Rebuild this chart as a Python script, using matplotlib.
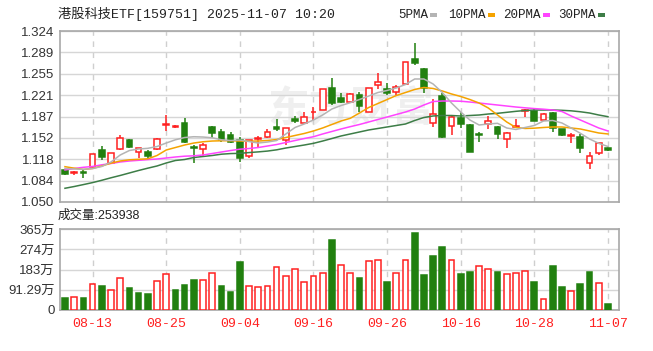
import numpy as np
import matplotlib
matplotlib.use('Agg')
import matplotlib.pyplot as plt

# 港股科技ETF daily K-line, 2025-08-08 .. 2025-11-07

dates = ['08-08', '08-11', '08-12', '08-13', '08-14', '08-15', '08-18', '08-19', '08-20', '08-21',
         '08-22', '08-25', '08-26', '08-27', '08-28', '08-29', '09-01', '09-02', '09-03', '09-04',
         '09-05', '09-08', '09-09', '09-10', '09-11', '09-12', '09-15', '09-16', '09-17', '09-18',
         '09-19', '09-22', '09-23', '09-24', '09-25', '09-26', '09-29', '09-30', '10-09', '10-10',
         '10-13', '10-14', '10-15', '10-16', '10-17', '10-20', '10-21', '10-22', '10-23', '10-24',
         '10-27', '10-28', '10-29', '10-30', '10-31', '11-03', '11-04', '11-05', '11-06', '11-07']

opens = [1.101, 1.0965, 1.098, 1.1056, 1.1333, 1.112, 1.1344, 1.1493, 1.1296, 1.1306,
         1.1344, 1.173, 1.1705, 1.1761, 1.1386, 1.1349, 1.1697, 1.1627, 1.1573, 1.1493,
         1.1237, 1.1515, 1.1546, 1.1697, 1.1493, 1.1822, 1.1771, 1.1935, 1.1974, 1.2322,
         1.2162, 1.2107, 1.2214, 1.1947, 1.2375, 1.2306, 1.2267, 1.2391, 1.2786, 1.2626,
         1.1771, 1.2203, 1.1718, 1.1841, 1.1734, 1.1583, 1.175, 1.1707, 1.1505, 1.170,
         1.196, 1.1963, 1.1814, 1.1921, 1.1665, 1.1565, 1.1537, 1.113, 1.129, 1.137]
highs = [1.102, 1.100, 1.101, 1.127, 1.1397, 1.129, 1.157, 1.1505, 1.137, 1.1333,
         1.152, 1.1894, 1.174, 1.1841, 1.1413, 1.144, 1.1712, 1.1665, 1.162, 1.1546,
         1.150, 1.1557, 1.1665, 1.1825, 1.169, 1.1878, 1.1947, 1.2017, 1.231, 1.2492,
         1.2242, 1.224, 1.2258, 1.233, 1.2572, 1.2402, 1.2375, 1.2745, 1.3043, 1.265,
         1.2146, 1.2242, 1.1878, 1.1947, 1.175, 1.1627, 1.1878, 1.171, 1.1627, 1.1825,
         1.1985, 1.1985, 1.192, 1.1947, 1.167, 1.1601, 1.159, 1.1306, 1.1445, 1.1376]
lows = [1.094, 1.093, 1.088, 1.105, 1.1173, 1.111, 1.133, 1.136, 1.120, 1.1193,
        1.133, 1.1643, 1.168, 1.1441, 1.112, 1.1226, 1.152, 1.1466, 1.145, 1.1146,
        1.121, 1.1386, 1.152, 1.1643, 1.1413, 1.176, 1.1761, 1.1814, 1.197, 1.2054,
        1.2091, 1.208, 1.1947, 1.194, 1.2306, 1.2214, 1.2214, 1.238, 1.2695, 1.2251,
        1.1697, 1.153, 1.1573, 1.1681, 1.1306, 1.1466, 1.1665, 1.1505, 1.136, 1.1681,
        1.1855, 1.179, 1.180, 1.1627, 1.156, 1.1441, 1.128, 1.1024, 1.1253, 1.1317]
closes = [1.0949, 1.0975, 1.097, 1.1264, 1.1226, 1.128, 1.152, 1.1376, 1.136, 1.1237,
          1.1504, 1.1745, 1.1718, 1.1466, 1.137, 1.1413, 1.1611, 1.1493, 1.1466, 1.120,
          1.1493, 1.1525, 1.1627, 1.167, 1.168, 1.1797, 1.1857, 1.195, 1.2306, 1.2091,
          1.2107, 1.2226, 1.2038, 1.2322, 1.2428, 1.2251, 1.2338, 1.2738, 1.2722, 1.2322,
          1.1905, 1.1546, 1.1857, 1.175, 1.1306, 1.1567, 1.1803, 1.159, 1.1601, 1.171,
          1.1974, 1.1803, 1.191, 1.1681, 1.1574, 1.1574, 1.136, 1.1237, 1.1441, 1.1333]

ma5 = [1.1037, 1.1029, 1.1024, 1.1037, 1.1069, 1.1141, 1.1253, 1.1325, 1.1349, 1.1360,
       1.1389, 1.1445, 1.1497, 1.1533, 1.1546, 1.1541, 1.1529, 1.1497, 1.1485, 1.1493,
       1.1469, 1.1445, 1.1461, 1.1485, 1.1590, 1.1694, 1.1750, 1.1814, 1.1894, 1.1990,
       1.2046, 1.2091, 1.2142, 1.2198, 1.2254, 1.2287, 1.2327, 1.2383, 1.2471, 1.2471,
       1.2391, 1.2254, 1.2086, 1.1942, 1.1814, 1.1734, 1.1750, 1.1761, 1.1686, 1.1662,
       1.1694, 1.1726, 1.1798, 1.1806, 1.1766, 1.1686, 1.1601, 1.1510, 1.1440, 1.1389]
ma10 = [1.1066, 1.1042, 1.1021, 1.1037, 1.1077, 1.1122, 1.1157, 1.1176, 1.1184, 1.1192,
        1.1245, 1.1333, 1.1373, 1.1413, 1.1445, 1.1465, 1.1477, 1.1481, 1.1482, 1.1477,
        1.1474, 1.1477, 1.1485, 1.1501, 1.1533, 1.1566, 1.1598, 1.1638, 1.1686, 1.1742,
        1.1798, 1.1841, 1.1926, 1.2014, 1.2078, 1.2142, 1.2206, 1.2254, 1.2303, 1.2335,
        1.2319, 1.2279, 1.2231, 1.2191, 1.2142, 1.2086, 1.2006, 1.1894, 1.1782, 1.1694,
        1.1678, 1.1683, 1.1694, 1.1702, 1.1702, 1.1686, 1.1670, 1.1638, 1.1606, 1.1590]
ma20 = [1.1013, 1.1037, 1.1056, 1.1069, 1.1096, 1.1117, 1.1141, 1.1157, 1.1168, 1.1179,
        1.1189, 1.1205, 1.1221, 1.1234, 1.1240, 1.1253, 1.1277, 1.1301, 1.1325, 1.1346,
        1.1357, 1.1373, 1.1397, 1.1421, 1.1453, 1.1485, 1.1517, 1.1546, 1.1590, 1.1630,
        1.1670, 1.1707, 1.1742, 1.1782, 1.1822, 1.1862, 1.1902, 1.1942, 1.1990, 1.2054,
        1.2110, 1.2118, 1.2118, 1.2115, 1.2102, 1.2086, 1.2070, 1.2054, 1.2038, 1.2022,
        1.2009, 1.1997, 1.1987, 1.1974, 1.1950, 1.1878, 1.1814, 1.1750, 1.1686, 1.1638]
ma30 = [1.0720, 1.0748, 1.0779, 1.0811, 1.0848, 1.0888, 1.0925, 1.0965, 1.1005, 1.1042,
        1.1077, 1.1125, 1.1165, 1.1181, 1.1213, 1.1229, 1.1245, 1.1266, 1.1276, 1.1280,
        1.1292, 1.1303, 1.1316, 1.1336, 1.1365, 1.1389, 1.1413, 1.1440, 1.1477, 1.1517,
        1.1558, 1.1590, 1.1622, 1.1654, 1.1678, 1.1702, 1.1726, 1.1750, 1.1806, 1.1854,
        1.1878, 1.1886, 1.1886, 1.1878, 1.1886, 1.1894, 1.1910, 1.1921, 1.1937, 1.1953,
        1.1966, 1.1974, 1.1974, 1.1974, 1.1969, 1.1961, 1.1946, 1.1926, 1.1894, 1.1867]

# volume in 万, and whether close was above the previous close (bar colour)
volumes = [52.7, 58.6, 52.7, 117.0, 106.7, 90.0, 145.8, 97.7, 75.0, 70.6,
           132.2, 160.8, 91.7, 112.7, 133.7, 133.7, 165.3, 106.7, 81.1, 214.9,
           106.7, 102.2, 106.7, 192.4, 154.8, 183.4, 127.7, 154.8, 165.3, 314.1,
           202.9, 165.3, 145.8, 220.9, 226.8, 124.7, 165.3, 226.8, 345.7, 156.3,
           241.9, 285.5, 226.8, 160.8, 172.8, 198.4, 183.4, 172.8, 160.8, 165.3,
           177.3, 124.7, 48.1, 199.9, 102.2, 85.7, 118.8, 172.8, 123.2, 25.39]
vol_up = [0, 1, 0, 1, 0, 1, 1, 0, 0, 0,
          1, 1, 0, 0, 0, 1, 1, 0, 0, 0,
          1, 1, 1, 1, 1, 1, 1, 1, 1, 0,
          1, 1, 0, 1, 1, 0, 1, 1, 0, 0,
          0, 0, 1, 0, 0, 1, 1, 0, 1, 1,
          1, 0, 1, 0, 0, 1, 0, 0, 1, 0]

price_ticks = ['1.050', '1.084', '1.118', '1.152', '1.187', '1.221', '1.255', '1.289', '1.324']
vol_ticks = ['0', '91.29万', '183万', '274万', '365万']
label_dates = ['08-13', '08-25', '09-04', '09-16', '09-26', '10-16', '10-28', '11-07']

RED = '#ff2020'
GREEN = '#21800f'
MA_COLORS = ['#b4b4b4', '#f5a300', '#ff44ff', '#3d7d47']
GRID = '#d6d6d6'
FRAME = '#a8a8a8'

W, H = 653, 351
fig = plt.figure(figsize=(W / 100, H / 100), dpi=100)

def box(x0, y0, x1, y1):
    return [x0 / W, 1 - y1 / H, (x1 - x0) / W, (y1 - y0) / H]

def px(x, y):
    return x / W, 1 - y / H

ax = fig.add_axes(box(60, 31, 619, 202))
axv = fig.add_axes(box(60, 229, 619, 310))

x = np.arange(len(dates))
label_idx = [dates.index(d) for d in label_dates]
num_fonts = ['Liberation Sans', 'Noto Sans CJK SC']
mono_fonts = ['Liberation Mono', 'Noto Sans CJK SC']

for a in (ax, axv):
    a.set_xlim(-0.54, 60.2)
    a.set_axisbelow(True)
    for s in a.spines.values():
        s.set_color(FRAME)
        s.set_linewidth(1.2)
    a.set_xticks(label_idx)
    a.grid(axis='y', color=GRID, linewidth=1)
    a.grid(axis='x', color='#cfcfcf', linewidth=1, linestyle=(0, (4, 4)))
    a.tick_params(length=0, labelsize=9.5, labelcolor='#333333', pad=4)

# watermark
ax.text(0.52, 0.55, '东方财富', transform=ax.transAxes, fontsize=30, color='#efefef',
        family=['Noto Sans CJK SC'], fontweight='bold', style='italic',
        ha='center', va='center', zorder=0)

# candles
up = np.array(closes) >= np.array(opens)
body_lo = np.minimum(opens, closes)
body_h = np.maximum(np.abs(np.array(closes) - np.array(opens)), 0.0008)
ax.vlines(x, lows, highs, colors=[RED if u else GREEN for u in up], linewidth=1.1, zorder=2)
ax.bar(x[up], body_h[up], bottom=body_lo[up], width=0.62, facecolor='white',
       edgecolor=RED, linewidth=1.1, zorder=3)
ax.bar(x[~up], body_h[~up], bottom=body_lo[~up], width=0.62, facecolor=GREEN,
       edgecolor=GREEN, linewidth=1.1, zorder=3)

for ma, c in zip([ma30, ma20, ma10, ma5], MA_COLORS[::-1]):
    ax.plot(x, ma, color=c, linewidth=1.1, zorder=4)

ax.set_ylim(1.050, 1.324)
ax.set_yticks(np.linspace(1.050, 1.324, len(price_ticks)))
ax.set_yticklabels(price_ticks, family=num_fonts)
ax.set_xticklabels([])

# volume bars
vu = np.array(vol_up, dtype=bool)
vol = np.array(volumes)
axv.bar(x[vu], vol[vu], width=0.62, facecolor='white', edgecolor=RED, linewidth=1.1, zorder=3)
axv.bar(x[~vu], vol[~vu], width=0.62, facecolor=GREEN, edgecolor=GREEN, linewidth=1.1, zorder=3)
axv.set_ylim(0, 365.16)
axv.set_yticks(np.linspace(0, 365.16, len(vol_ticks)))
axv.set_yticklabels(vol_ticks, family=num_fonts)
axv.set_xticklabels(label_dates, family=mono_fonts, fontsize=9.5, color=RED)
axv.tick_params(axis='x', pad=6, labelcolor=RED)

# header texts
fig.text(*px(58, 14), '港股科技ETF[159751] 2025-11-07 10:20', family=mono_fonts,
         fontsize=9.5, color='#222222', va='center')
fig.text(*px(58, 216), '成交量:253938', family=num_fonts, fontsize=9,
         color='#222222', va='center')

legend_items = [('5PMA', 398, 430), ('10PMA', 448, 488), ('20PMA', 503, 543), ('30PMA', 558, 598)]
for (name, tx, mx), c in zip(legend_items, MA_COLORS):
    fig.text(*px(tx, 15), name, family=mono_fonts, fontsize=9, color='#222222', va='center')
    fig.patches.append(plt.Rectangle(px(mx, 17), 7 / W, 4 / H, transform=fig.transFigure,
                                     facecolor=c, edgecolor='none'))

plt.savefig('out.png', dpi=100)
plt.close()
